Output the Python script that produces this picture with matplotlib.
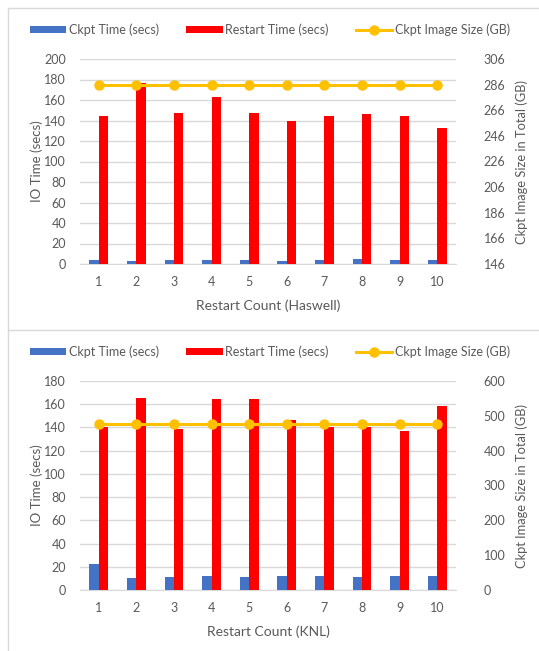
import numpy as np
import matplotlib.pyplot as plt
from matplotlib.lines import Line2D

plt.rcParams['font.family'] = ['Lato', 'DejaVu Sans']

runs = [1, 2, 3, 4, 5, 6, 7, 8, 9, 10]

# Haswell
has_ckpt = [4.2, 3.0, 3.8, 3.8, 3.8, 3.4, 3.8, 4.5, 3.8, 4.3]
has_restart = [144.4, 177, 147, 163, 147, 139.8, 144.4, 146.3, 144.7, 132.4]
has_size = [285.5] * 10

# KNL
knl_ckpt = [22.8, 10.4, 11.2, 11.8, 11.5, 11.8, 12.0, 11.0, 12.0, 11.8]
knl_restart = [140.6, 165.6, 139.0, 164.8, 164.8, 146.0, 140.0, 140.0, 137.0, 158.5]
knl_size = [477] * 10

BLUE = '#4472C4'
RED = '#FF0000'
GOLD = '#FFC000'
GRID = '#D9D9D9'
TXT = '#595959'
FS = 9

W, H = 539, 651
fig = plt.figure(figsize=(W / 100, H / 100), dpi=100)

# panel frame lines (cropped screenshot)
fig.add_artist(Line2D([8 / W, 8 / W], [0, 1 - 8 / H], color=GRID, lw=1))
fig.add_artist(Line2D([8 / W, 1], [1 - 8 / H, 1 - 8 / H], color=GRID, lw=1))
fig.add_artist(Line2D([8 / W, 1], [1 - 330 / H, 1 - 330 / H], color=GRID, lw=1))


def panel(top, bottom, ckpt, restart, size, ylim, yticks, y2lim, y2ticks, xlabel, legend_y):
    ax = fig.add_axes([80 / W, 1 - bottom / H, 376 / W, (bottom - top) / H])
    ax2 = ax.twinx()
    x = np.arange(len(runs))
    w = 0.25
    ax.bar(x - w / 2, ckpt, w, color=BLUE, label='Ckpt Time (secs)', zorder=3)
    ax.bar(x + w / 2, restart, w, color=RED, label='Restart Time (secs)', zorder=3)
    ax2.plot(x, size, color=GOLD, lw=2.2, marker='o', ms=6.5,
             label='Ckpt Image Size (GB)', zorder=4)

    ax.set_xlim(-0.5, len(runs) - 0.5)
    ax.set_ylim(*ylim)
    ax.set_yticks(yticks)
    ax2.set_ylim(*y2lim)
    ax2.set_yticks(y2ticks)
    ax.set_xticks(x)
    ax.set_xticklabels([str(r) for r in runs])
    ax.grid(axis='y', color=GRID, lw=1, zorder=0)
    ax.set_axisbelow(True)
    for a in (ax, ax2):
        for s in a.spines.values():
            s.set_visible(False)
        a.tick_params(length=0, labelsize=FS, colors=TXT)
    ax.spines['bottom'].set_visible(True)
    ax.spines['bottom'].set_color(GRID)
    ax.tick_params(axis='y', pad=10)
    ax.tick_params(axis='x', pad=9)
    ax2.tick_params(axis='y', pad=20)
    ax.set_xlabel(xlabel, fontsize=FS + 1, color=TXT, labelpad=8)
    ax.set_ylabel('IO Time (secs)', fontsize=FS + 0.5, color=TXT, labelpad=1)
    ax2.set_ylabel('Ckpt Image Size in Total (GB)', fontsize=FS + 0.3, color=TXT, labelpad=7)

    h1, l1 = ax.get_legend_handles_labels()
    h2, l2 = ax2.get_legend_handles_labels()
    fig.legend(h1 + h2, l1 + l2, loc='center', bbox_to_anchor=(270 / W, 1 - legend_y / H),
               ncol=3, frameon=False, fontsize=FS, labelcolor=TXT,
               handlelength=2.9, handletextpad=0.2, columnspacing=2.2,
               handleheight=0.45)
    return ax, ax2


panel(59, 264, has_ckpt, has_restart, has_size, (0, 200), np.arange(0, 201, 20),
      (146, 306), np.arange(146, 307, 20), 'Restart Count (Haswell)', 30)
panel(381, 590, knl_ckpt, knl_restart, knl_size, (0, 180), np.arange(0, 181, 20),
      (0, 600), np.arange(0, 601, 100), 'Restart Count (KNL)', 352)

fig.savefig('out.png', dpi=100)
